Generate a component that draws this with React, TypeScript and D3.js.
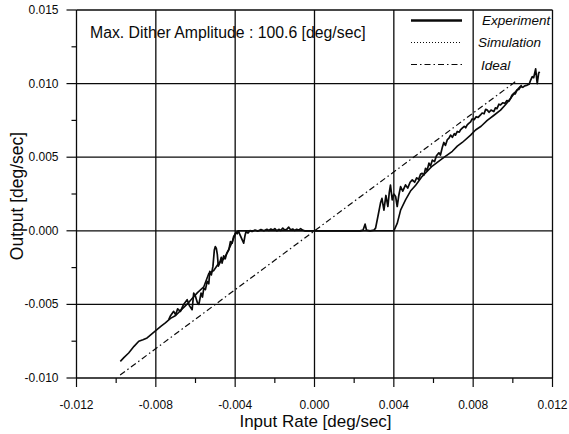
import React from 'react';
import * as d3 from 'd3';

// Axis setup (deg/sec)
const X_DOMAIN: [number, number] = [-0.012, 0.012];
const Y_DOMAIN: [number, number] = [-0.010, 0.015];
const X_TICKS = [-0.012, -0.008, -0.004, 0, 0.004, 0.008, 0.012];
const X_MINOR = [-0.010, -0.006, -0.002, 0.002, 0.006, 0.010];
const Y_TICKS = [-0.010, -0.005, 0, 0.005, 0.010, 0.015];
const Y_MINOR = [-0.0075, -0.0025, 0.0025, 0.0075, 0.0125];

const TITLE = 'Max. Dither Amplitude : 100.6 [deg/sec]';
const X_LABEL = 'Input Rate [deg/sec]';
const Y_LABEL = 'Output [deg/sec]';
const SERIES_NAMES = ['Experiment', 'Simulation', 'Ideal'];

// Values below are in units of 0.001 deg/sec
const EXP_X = [
  -7.35, -7.25, -7.1, -7.0, -6.9, -6.76, -6.6, -6.42, -6.3, -6.17, -6.09, -6.0, -5.9, -5.83, -5.72, -5.65,
  -5.58, -5.5, -5.41, -5.33, -5.28, -5.2, -5.12, -5.05, -5.0, -4.95, -4.9, -4.85, -4.78, -4.7, -4.66, -4.58,
  -4.5, -4.42, -4.32, -4.24, -4.15, -4.08, -4.02, -3.95, -3.9, -3.82, -3.75, -3.65, -3.57, -3.5, -3.45, -3.35,
  -3.25, -3.15, -3.0, -2.85, -2.7, -2.55, -2.4, -2.3, -2.2, -2.1, -2.0, -1.9, -1.8, -1.7, -1.6, -1.5,
  -1.4, -1.3, -1.2, -1.1, -1.0, -0.9, -0.8, -0.7, -0.6, -0.5,
  2.3, 2.45, 2.55, 2.62, 2.8, 3.0, 3.08, 3.2, 3.33, 3.4, 3.5, 3.6, 3.7, 3.77, 3.83, 3.92,
  4.0, 4.09, 4.17, 4.25, 4.34, 4.45, 4.59, 4.7, 4.82, 4.93, 5.05, 5.15, 5.25, 5.35, 5.43, 5.52,
  5.6, 5.68, 5.77, 5.85, 5.94, 6.05, 6.15, 6.27, 6.35, 6.45, 6.52, 6.6, 6.7, 6.78, 6.86, 6.95,
  7.05, 7.11, 7.2, 7.3, 7.36, 7.45, 7.55, 7.62, 7.7, 7.78, 7.87, 7.95, 8.05, 8.15, 8.25, 8.37,
  8.45, 8.55, 8.63, 8.71, 8.8, 8.9, 9.04, 9.12, 9.2, 9.3, 9.38, 9.5, 9.6, 9.7, 9.8, 9.89,
  9.95, 10.05, 10.12, 10.22, 10.3, 10.39, 10.5, 10.6, 10.73, 10.82, 10.9, 10.98, 11.05, 11.15, 11.23, 11.3,
  11.35,
];
const EXP_Y = [
  -6.04, -5.75, -5.47, -5.7, -5.3, -5.47, -5.0, -4.68, -5.1, -5.36, -4.23, -4.46, -4.9, -5.0, -4.23, -4.5,
  -3.89, -4.0, -3.44, -3.6, -2.76, -3.0, -2.4, -1.3, -1.07, -1.2, -1.6, -2.4, -2.2, -1.8, -2.2, -1.7,
  -1.9, -1.5, -1.29, -0.73, -0.84, -0.4, -0.27, -0.1, -0.2, -0.05, -0.3, -0.6, -0.84, -0.3, -0.05, -0.15,
  0.02, -0.05, 0.05, -0.02, 0.08, 0.0, 0.1, 0.02, 0.12, 0.05, 0.15, 0.0, 0.1, 0.02, 0.18, 0.05,
  0.1, 0.25, 0.05, 0.12, 0.02, 0.1, 0.05, 0.15, 0.05, 0.0,
  0.0, 0.05, 0.45, 0.05, 0.0, 0.05, 0.18, 1.0, 1.9, 2.2, 1.4, 2.4, 1.65, 2.6, 3.1, 2.1,
  2.5, 2.33, 1.65, 2.4, 3.0, 2.7, 3.12, 2.9, 3.3, 3.46, 3.3, 3.6, 3.5, 3.85, 3.9, 3.8,
  4.25, 4.1, 4.6, 4.4, 4.8, 4.7, 5.1, 5.3, 5.15, 5.7, 6.0, 5.8, 6.2, 6.3, 6.5, 6.35,
  6.6, 6.5, 6.75, 6.7, 6.85, 6.97, 7.1, 7.0, 7.2, 7.3, 7.4, 7.6, 7.55, 7.75, 7.7, 7.87,
  8.0, 7.95, 8.25, 8.2, 8.05, 8.2, 8.1, 8.35, 8.3, 8.6, 8.55, 8.7, 8.65, 8.85, 8.8, 9.0,
  9.2, 9.34, 9.3, 9.57, 9.6, 9.79, 9.75, 9.85, 9.9, 9.95, 10.24, 10.47, 10.4, 11.0, 10.0, 10.7,
  10.8,
];

const SIM_X = [
  -9.79, -9.6, -9.37, -9.1, -8.86, -8.65, -8.44, -8.2, -8.02, -7.75, -7.52, -7.26, -7.0, -6.67, -6.4, -6.17,
  -5.9, -5.58, -5.33, -5.08, -4.83, -4.57, -4.4, -4.15, -3.98, -3.85, 4.0, 4.17, 4.34, 4.59, 4.84, 5.1,
  5.43, 5.94, 6.44, 6.95, 7.2, 7.45, 7.87, 8.12, 8.4, 8.71, 9.05, 9.38, 9.65, 9.89, 10.1, 10.3,
  10.45,
];
const SIM_Y = [
  -8.87, -8.6, -8.3, -7.85, -7.5, -7.4, -7.28, -7.0, -6.8, -6.5, -6.26, -5.95, -5.75, -5.3, -4.95, -4.6,
  -4.2, -3.8, -2.9, -2.7, -2.2, -1.9, -1.5, -0.75, -0.16, 0.0, 0.0, 0.5, 1.4, 2.1, 2.7, 3.1,
  3.7, 4.4, 4.9, 5.4, 5.75, 6.0, 6.5, 6.85, 7.1, 7.5, 7.85, 8.2, 8.6, 9.0, 9.4, 9.7,
  9.9,
];

const IDEAL_X = [-9.8, 10.2];
const IDEAL_Y = [-9.8, 10.2];

const toPts = (xs: number[], ys: number[]): [number, number][] =>
  xs.map((v, i) => [v * 1e-3, ys[i] * 1e-3]);

const FONT = "'Liberation Sans', Arial, Helvetica, sans-serif";

export default function App() {
  const W = 569;
  const H = 434;
  const left = 76.5, right = 552.5, top = 10, bottom = 378;
  const x = d3.scaleLinear().domain(X_DOMAIN).range([left, right]);
  const y = d3.scaleLinear().domain(Y_DOMAIN).range([bottom, top]);
  const line = d3.line<[number, number]>().x((d) => x(d[0])).y((d) => y(d[1]));

  const exp = toPts(EXP_X, EXP_Y);
  const sim = toPts(SIM_X, SIM_Y);
  const ideal = toPts(IDEAL_X, IDEAL_Y);

  const fmt = (v: number) => (Math.abs(v) < 1e-12 ? '0.000' : v.toFixed(3));
  const ink = '#0a0a0a';

  const legendRows = [
    { name: SERIES_NAMES[0], ly: 20.5, ty: 25, tx: 482, w: 2.4, dash: undefined },
    { name: SERIES_NAMES[1], ly: 42.5, ty: 47, tx: 478, w: 1, dash: '1,2' },
    { name: SERIES_NAMES[2], ly: 64.5, ty: 70, tx: 481, w: 1.1, dash: '6,3,1.5,3' },
  ];

  return (
    <svg
      width={W}
      height={H}
      style={{ position: 'absolute', left: 0, top: 0, display: 'block' }}
      fontFamily={FONT}
    >
      <rect x={0} y={0} width={W} height={H} fill="#fff" />
      {/* grid */}
      <g stroke={ink} strokeWidth={1.3}>
        {X_TICKS.map((t) => (
          <line key={'gx' + t} x1={x(t)} x2={x(t)} y1={top} y2={bottom} />
        ))}
        {Y_TICKS.map((t) => (
          <line key={'gy' + t} x1={left} x2={right} y1={y(t)} y2={y(t)} />
        ))}
      </g>
      {/* ticks */}
      <g stroke={ink} strokeWidth={1.2}>
        {X_TICKS.map((t) => (
          <line key={'tx' + t} x1={x(t)} x2={x(t)} y1={bottom} y2={bottom + 9} />
        ))}
        {X_MINOR.map((t) => (
          <line key={'mx' + t} x1={x(t)} x2={x(t)} y1={bottom} y2={bottom + 5} />
        ))}
        {Y_TICKS.map((t) => (
          <line key={'ty' + t} x1={left - 10} x2={left} y1={y(t)} y2={y(t)} />
        ))}
        {Y_MINOR.map((t) => (
          <line key={'my' + t} x1={left - 5} x2={left} y1={y(t)} y2={y(t)} />
        ))}
      </g>
      {/* tick labels */}
      <g fontSize={12} fill={ink}>
        {X_TICKS.map((t) => (
          <text key={'lx' + t} x={x(t)} y={409} textAnchor="middle">
            {fmt(t)}
          </text>
        ))}
        {Y_TICKS.map((t) => (
          <text key={'ly' + t} x={left - 18} y={y(t) + 4} textAnchor="end">
            {fmt(t)}
          </text>
        ))}
      </g>
      {/* axis titles */}
      <text x={(left + right) / 2 + 1} y={427} textAnchor="middle" fontSize={17} fill={ink}>
        {X_LABEL}
      </text>
      <text
        transform={`translate(23, ${(top + bottom) / 2 + 2}) rotate(-90)`}
        textAnchor="middle"
        fontSize={17.5}
        fill={ink}
      >
        {Y_LABEL}
      </text>
      {/* annotation */}
      <text x={90} y={37.5} fontSize={15.8} fill={ink}>
        {TITLE}
      </text>
      {/* legend */}
      {legendRows.map((r) => (
        <g key={r.name}>
          <line
            x1={411}
            x2={462}
            y1={r.ly}
            y2={r.ly}
            stroke={ink}
            strokeWidth={r.w}
            strokeDasharray={r.dash}
          />
          <text x={r.tx} y={r.ty} fontSize={13.5} fontStyle="italic" fill={ink}>
            {r.name}
          </text>
        </g>
      ))}
      {/* data */}
      <path d={line(ideal) || ''} fill="none" stroke={ink} strokeWidth={1.2} strokeDasharray="6,3,1.5,3" />
      <path d={line(sim) || ''} fill="none" stroke={ink} strokeWidth={1.6} strokeLinejoin="round" />
      <path d={line(exp) || ''} fill="none" stroke={ink} strokeWidth={1.7} strokeLinejoin="round" />
    </svg>
  );
}
